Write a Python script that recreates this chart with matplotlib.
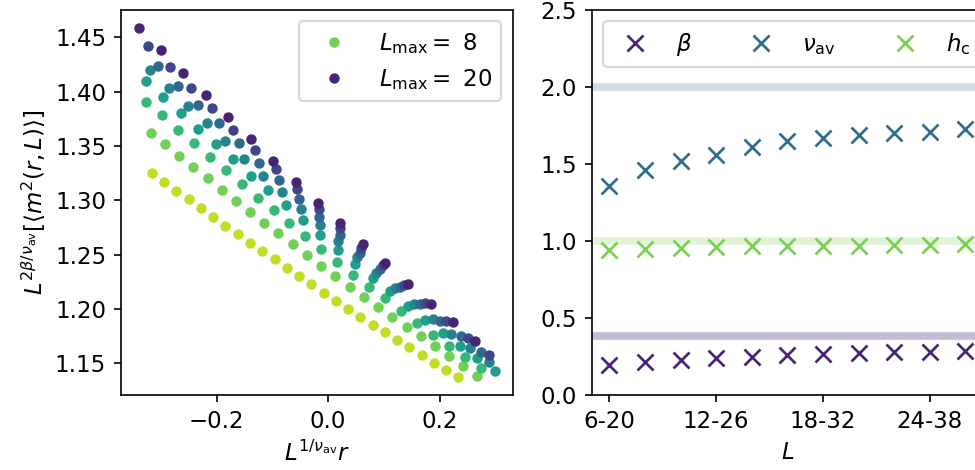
import numpy as np
import matplotlib
matplotlib.use("Agg")
import matplotlib.pyplot as plt

# left panel: rescaled curves, one per system size L
x_l06 = [-0.316, -0.294, -0.272, -0.250, -0.228, -0.206, -0.184, -0.162, -0.140, -0.118, -0.096, -0.074, -0.052,
         -0.030, -0.008, 0.014, 0.036, 0.058, 0.080, 0.102, 0.124, 0.146, 0.168, 0.190, 0.212, 0.234]
y_l06 = [1.3254, 1.3171, 1.3088, 1.3009, 1.2926, 1.2848, 1.2763, 1.2689, 1.2609, 1.2532, 1.2456, 1.2378, 1.2302,
         1.2225, 1.2148, 1.2074, 1.2000, 1.1927, 1.1850, 1.1788, 1.1712, 1.1645, 1.1574, 1.1503, 1.1435, 1.1368]
x_l08 = [-0.318, -0.293, -0.267, -0.242, -0.216, -0.191, -0.165, -0.140, -0.114, -0.089, -0.063, -0.038,
         -0.012, 0.013, 0.039, 0.064, 0.090, 0.115, 0.141, 0.166, 0.192, 0.217, 0.243, 0.268]
y_l08 = [1.3623, 1.3516, 1.3408, 1.3302, 1.3200, 1.3098, 1.2995, 1.2889, 1.2793, 1.2695, 1.2594, 1.2495,
         1.2397, 1.2302, 1.2203, 1.2111, 1.2019, 1.1927, 1.1835, 1.1749, 1.1657, 1.1565, 1.1475, 1.1383]
x_l10 = [-0.3266, -0.2980, -0.2694, -0.2408, -0.2122, -0.1836, -0.1550, -0.1264, -0.0978, -0.0692, -0.0406,
         -0.0120, 0.0166, 0.0452, 0.0738, 0.1024, 0.1310, 0.1596, 0.1882, 0.2168, 0.2454, 0.2740]
y_l10 = [1.3908, 1.3780, 1.3650, 1.3525, 1.3401, 1.3277, 1.3150, 1.3023, 1.2906, 1.2786, 1.2667,
         1.2548, 1.2432, 1.2316, 1.2205, 1.2100, 1.1982, 1.1869, 1.1762, 1.1660, 1.1559, 1.1458]
x_l12 = [-0.3266, -0.2953, -0.2640, -0.2327, -0.2014, -0.1701, -0.1388, -0.1075, -0.0762, -0.0449, -0.0136,
         0.0177, 0.0490, 0.0803, 0.1116, 0.1429, 0.1742, 0.2055, 0.2368, 0.2681, 0.2994]
y_l12 = [1.4098, 1.3952, 1.3800, 1.3660, 1.3518, 1.3375, 1.3226, 1.3090, 1.2953, 1.2816, 1.2679,
         1.2545, 1.2413, 1.2285, 1.2160, 1.2024, 1.1899, 1.1779, 1.1661, 1.1544, 1.1427]
x_l14 = [-0.3194, -0.2856, -0.2518, -0.2180, -0.1842, -0.1504, -0.1166, -0.0828, -0.0490, -0.0152, 0.0186,
         0.0524, 0.0862, 0.1200, 0.1538, 0.1876, 0.2214, 0.2552, 0.2890]
y_l14 = [1.4200, 1.4035, 1.3865, 1.3710, 1.3548, 1.3383, 1.3227, 1.3076, 1.2923, 1.2771, 1.2620,
         1.2473, 1.2333, 1.2189, 1.2042, 1.1902, 1.1770, 1.1638, 1.1507]
x_l16 = [-0.3051, -0.2689, -0.2327, -0.1965, -0.1603, -0.1241, -0.0879, -0.0517, -0.0155, 0.0207, 0.0569,
         0.0931, 0.1293, 0.1655, 0.2017, 0.2379, 0.2741]
y_l16 = [1.4240, 1.4055, 1.3880, 1.3710, 1.3525, 1.3346, 1.3182, 1.3012, 1.2844, 1.2679, 1.2517,
         1.2363, 1.2202, 1.2043, 1.1892, 1.1747, 1.1602]
x_l18 = [-0.3225, -0.2843, -0.2461, -0.2079, -0.1697, -0.1315, -0.0933, -0.0551, -0.0169, 0.0213, 0.0595,
         0.0977, 0.1359, 0.1741, 0.2123, 0.2505, 0.2887]
y_l18 = [1.4422, 1.4228, 1.4035, 1.3846, 1.3651, 1.3462, 1.3283, 1.3100, 1.2920, 1.2740, 1.2564,
         1.2400, 1.2223, 1.2052, 1.1892, 1.1734, 1.1575]
x_l20 = [-0.340, -0.300, -0.260, -0.219, -0.179, -0.139, -0.098, -0.058, -0.018, 0.022, 0.063, 0.103,
         0.143, 0.184, 0.224, 0.264]
y_l20 = [1.459, 1.4385, 1.417, 1.397, 1.377, 1.356, 1.3365, 1.317, 1.2977, 1.2786, 1.2594, 1.2419,
         1.2228, 1.2044, 1.1875, 1.1706]

sizes = [6, 8, 10, 12, 14, 16, 18, 20]
curves_x = [x_l06, x_l08, x_l10, x_l12, x_l14, x_l16, x_l18, x_l20]
curves_y = [y_l06, y_l08, y_l10, y_l12, y_l14, y_l16, y_l18, y_l20]
legend_sizes = [8, 20]

# right panel: exponents for each fitting window
windows = ["6-20", "8-22", "10-24", "12-26", "14-28", "16-30", "18-32", "20-34", "22-36", "24-38", "26-40"]
beta = [0.195, 0.212, 0.227, 0.238, 0.249, 0.260, 0.266, 0.271, 0.277, 0.281, 0.288]
nu_av = [1.36, 1.46, 1.52, 1.56, 1.61, 1.65, 1.67, 1.69, 1.70, 1.71, 1.73]
h_c = [0.94, 0.95, 0.955, 0.96, 0.965, 0.965, 0.97, 0.97, 0.975, 0.975, 0.98]
beta_ref, nu_ref, h_ref = 0.38, 2.0, 1.0

plt.rcParams["font.size"] = 11
fig = plt.figure(figsize=(6.5, 470 / 150), dpi=150)
ax1 = fig.add_axes([0.1238, 0.1596, 0.4021, 0.8191])
ax2 = fig.add_axes([0.6067, 0.1596, 0.4016, 0.8191])

cols = plt.cm.viridis(np.linspace(0.9, 0.1, len(sizes)))
for L, xs, ys, c in zip(sizes, curves_x, curves_y, cols):
    lab = rf"$L_\mathrm{{max}} =$ {L}" if L in legend_sizes else None
    ax1.plot(xs, ys, "o", color=c, ms=5, mew=0, label=lab)
ax1.set_xlabel(r"$L^{1/\nu_\mathrm{av}}r$")
ax1.set_ylabel(r"$L^{2\beta/\nu_\mathrm{av}}[\langle m^2(r,L)\rangle]$")
ax1.set_xticks([-0.2, 0.0, 0.2])
ax1.set_yticks(np.arange(1.15, 1.451, 0.05))
ax1.legend(loc="upper right", handlelength=2.3)

c_beta = plt.cm.viridis(0.1)
c_nu = plt.cm.viridis(0.35)
c_h = plt.cm.viridis(0.8)
idx = np.arange(len(windows))
ax2.axhline(nu_ref, color=c_nu, alpha=0.22, lw=3.7)
ax2.axhline(h_ref, color=c_h, alpha=0.22, lw=3.7)
ax2.axhline(beta_ref, color=c_beta, alpha=0.3, lw=3.7)
ax2.plot(idx, beta, "x", color=c_beta, ms=8, mew=1.3, label=r"$\beta$")
ax2.plot(idx, nu_av, "x", color=c_nu, ms=8, mew=1.3, label=r"$\nu_\mathrm{av}$")
ax2.plot(idx, h_c, "x", color=c_h, ms=8, mew=1.3, label=r"$h_\mathrm{c}$")
ax2.set_xlim(-0.5, 10.5)
ax2.set_ylim(0, 2.5)
ax2.set_xticks(idx[::3])
ax2.set_xticklabels(windows[::3])
ax2.set_xlabel(r"$L$")
ax2.legend(loc="upper left", ncol=3)

fig.savefig("out.png", dpi=150)
